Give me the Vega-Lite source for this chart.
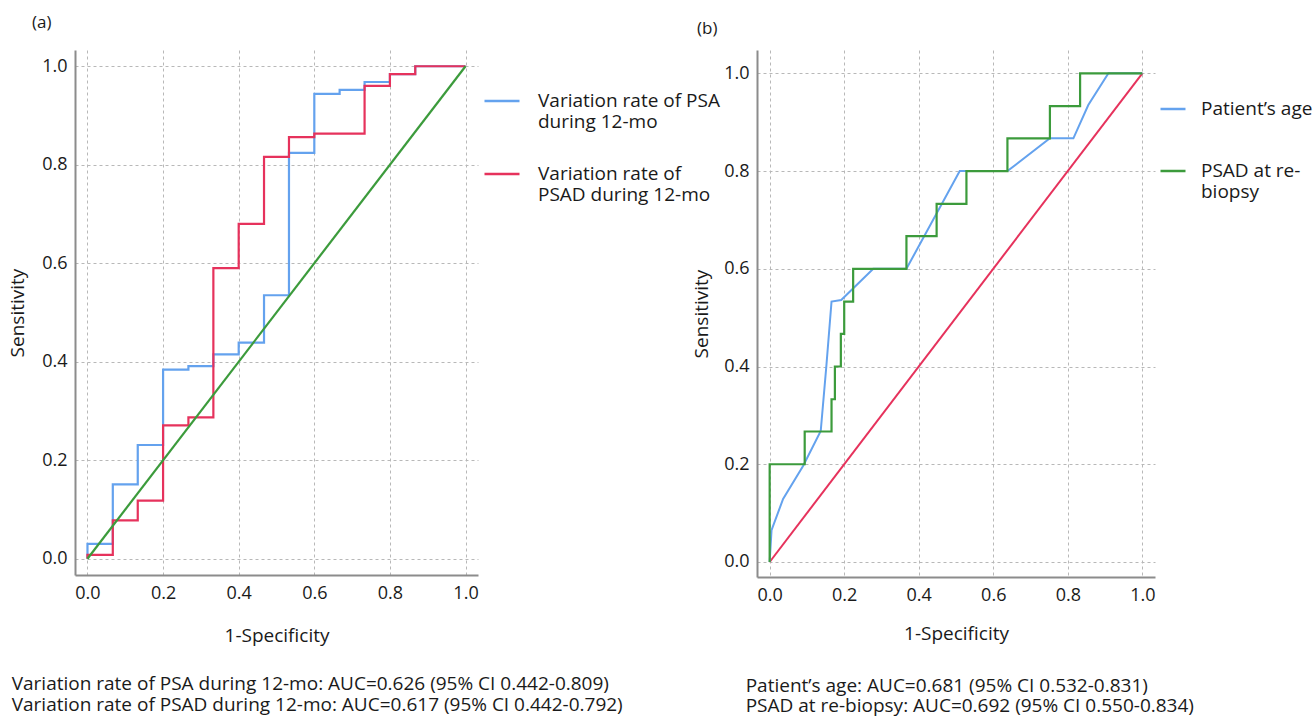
{
  "$schema": "https://vega.github.io/schema/vega-lite/v6.json",
  "background": "white",
  "padding": {"left": 8, "top": 14, "right": 0, "bottom": 0},
  "spacing": -28,
  "config": {
    "font": "Open Sans",
    "view": {"stroke": null},
    "axis": {
      "labelFontSize": 18, "labelColor": "#1a1a1a", "labelFont": "Open Sans",
      "titleFontSize": 19, "titleFontWeight": "normal", "titleColor": "#1a1a1a", "titleFont": "Open Sans",
      "domainColor": "#8c8c8c", "domainWidth": 2,
      "gridColor": "#b8b8b8", "gridDash": [3, 3], "gridWidth": 1,
      "ticks": false, "labelPadding": 8
    },
    "legend": {
      "labelFontSize": 19, "labelColor": "#1a1a1a", "labelFont": "Open Sans", "labelLimit": 400,
      "symbolType": "stroke", "symbolStrokeWidth": 2.5
    },
    "title": {"fontWeight": "normal", "color": "#1a1a1a", "font": "Open Sans"}
  },
  "resolve": {
    "scale": {"color": "independent", "x": "independent", "y": "independent"},
    "legend": {"color": "independent"}
  },
  "datasets": {
    "a": [
      {"series": "Variation rate of PSA during 12-mo", "i": 0, "fpr": 0, "tpr": 0},
      {"series": "Variation rate of PSA during 12-mo", "i": 1, "fpr": 0, "tpr": 0.030},
      {"series": "Variation rate of PSA during 12-mo", "i": 2, "fpr": 0.067, "tpr": 0.151},
      {"series": "Variation rate of PSA during 12-mo", "i": 3, "fpr": 0.133, "tpr": 0.231},
      {"series": "Variation rate of PSA during 12-mo", "i": 4, "fpr": 0.2, "tpr": 0.384},
      {"series": "Variation rate of PSA during 12-mo", "i": 5, "fpr": 0.267, "tpr": 0.391},
      {"series": "Variation rate of PSA during 12-mo", "i": 6, "fpr": 0.333, "tpr": 0.415},
      {"series": "Variation rate of PSA during 12-mo", "i": 7, "fpr": 0.4, "tpr": 0.439},
      {"series": "Variation rate of PSA during 12-mo", "i": 8, "fpr": 0.467, "tpr": 0.535},
      {"series": "Variation rate of PSA during 12-mo", "i": 9, "fpr": 0.533, "tpr": 0.824},
      {"series": "Variation rate of PSA during 12-mo", "i": 10, "fpr": 0.6, "tpr": 0.944},
      {"series": "Variation rate of PSA during 12-mo", "i": 11, "fpr": 0.667, "tpr": 0.952},
      {"series": "Variation rate of PSA during 12-mo", "i": 12, "fpr": 0.733, "tpr": 0.968},
      {"series": "Variation rate of PSA during 12-mo", "i": 13, "fpr": 0.8, "tpr": 0.984},
      {"series": "Variation rate of PSA during 12-mo", "i": 14, "fpr": 0.867, "tpr": 1.0},
      {"series": "Variation rate of PSA during 12-mo", "i": 15, "fpr": 1.0, "tpr": 1.0},
      {"series": "Variation rate of PSAD during 12-mo", "i": 0, "fpr": 0, "tpr": 0},
      {"series": "Variation rate of PSAD during 12-mo", "i": 1, "fpr": 0, "tpr": 0.008},
      {"series": "Variation rate of PSAD during 12-mo", "i": 2, "fpr": 0.067, "tpr": 0.078},
      {"series": "Variation rate of PSAD during 12-mo", "i": 3, "fpr": 0.133, "tpr": 0.118},
      {"series": "Variation rate of PSAD during 12-mo", "i": 4, "fpr": 0.2, "tpr": 0.271},
      {"series": "Variation rate of PSAD during 12-mo", "i": 5, "fpr": 0.267, "tpr": 0.287},
      {"series": "Variation rate of PSAD during 12-mo", "i": 6, "fpr": 0.333, "tpr": 0.590},
      {"series": "Variation rate of PSAD during 12-mo", "i": 7, "fpr": 0.4, "tpr": 0.680},
      {"series": "Variation rate of PSAD during 12-mo", "i": 8, "fpr": 0.467, "tpr": 0.816},
      {"series": "Variation rate of PSAD during 12-mo", "i": 9, "fpr": 0.533, "tpr": 0.856},
      {"series": "Variation rate of PSAD during 12-mo", "i": 10, "fpr": 0.6, "tpr": 0.863},
      {"series": "Variation rate of PSAD during 12-mo", "i": 11, "fpr": 0.733, "tpr": 0.960},
      {"series": "Variation rate of PSAD during 12-mo", "i": 12, "fpr": 0.8, "tpr": 0.984},
      {"series": "Variation rate of PSAD during 12-mo", "i": 13, "fpr": 0.867, "tpr": 1.0},
      {"series": "Variation rate of PSAD during 12-mo", "i": 14, "fpr": 1.0, "tpr": 1.0}
    ],
    "b": [
      {"series": "Patient’s age", "i": 0, "fpr": 0, "tpr": 0},
      {"series": "Patient’s age", "i": 1, "fpr": 0.005, "tpr": 0.065},
      {"series": "Patient’s age", "i": 2, "fpr": 0.036, "tpr": 0.129},
      {"series": "Patient’s age", "i": 3, "fpr": 0.09, "tpr": 0.197},
      {"series": "Patient’s age", "i": 4, "fpr": 0.137, "tpr": 0.268},
      {"series": "Patient’s age", "i": 5, "fpr": 0.152, "tpr": 0.4},
      {"series": "Patient’s age", "i": 6, "fpr": 0.166, "tpr": 0.533},
      {"series": "Patient’s age", "i": 7, "fpr": 0.192, "tpr": 0.536},
      {"series": "Patient’s age", "i": 8, "fpr": 0.278, "tpr": 0.6},
      {"series": "Patient’s age", "i": 9, "fpr": 0.367, "tpr": 0.6},
      {"series": "Patient’s age", "i": 10, "fpr": 0.51, "tpr": 0.8},
      {"series": "Patient’s age", "i": 11, "fpr": 0.638, "tpr": 0.8},
      {"series": "Patient’s age", "i": 12, "fpr": 0.752, "tpr": 0.867},
      {"series": "Patient’s age", "i": 13, "fpr": 0.815, "tpr": 0.867},
      {"series": "Patient’s age", "i": 14, "fpr": 0.855, "tpr": 0.935},
      {"series": "Patient’s age", "i": 15, "fpr": 0.909, "tpr": 1.0},
      {"series": "Patient’s age", "i": 16, "fpr": 1.0, "tpr": 1.0},
      {"series": "PSAD at re-biopsy", "i": 0, "fpr": 0, "tpr": 0},
      {"series": "PSAD at re-biopsy", "i": 1, "fpr": 0, "tpr": 0.2},
      {"series": "PSAD at re-biopsy", "i": 2, "fpr": 0.094, "tpr": 0.267},
      {"series": "PSAD at re-biopsy", "i": 3, "fpr": 0.166, "tpr": 0.333},
      {"series": "PSAD at re-biopsy", "i": 4, "fpr": 0.175, "tpr": 0.4},
      {"series": "PSAD at re-biopsy", "i": 5, "fpr": 0.191, "tpr": 0.467},
      {"series": "PSAD at re-biopsy", "i": 6, "fpr": 0.2, "tpr": 0.533},
      {"series": "PSAD at re-biopsy", "i": 7, "fpr": 0.224, "tpr": 0.6},
      {"series": "PSAD at re-biopsy", "i": 8, "fpr": 0.367, "tpr": 0.667},
      {"series": "PSAD at re-biopsy", "i": 9, "fpr": 0.448, "tpr": 0.733},
      {"series": "PSAD at re-biopsy", "i": 10, "fpr": 0.528, "tpr": 0.8},
      {"series": "PSAD at re-biopsy", "i": 11, "fpr": 0.638, "tpr": 0.867},
      {"series": "PSAD at re-biopsy", "i": 12, "fpr": 0.752, "tpr": 0.933},
      {"series": "PSAD at re-biopsy", "i": 13, "fpr": 0.833, "tpr": 1.0},
      {"series": "PSAD at re-biopsy", "i": 14, "fpr": 1.0, "tpr": 1.0}
    ],
    "diag": [
      {"x0": 0, "y0": 0, "x1": 1, "y1": 1}
    ]
  },
  "hconcat": [
    {
      "title": {
        "text": ["Variation rate of PSA during 12-mo: AUC=0.626 (95% CI 0.442-0.809)", "Variation rate of PSAD during 12-mo: AUC=0.617 (95% CI 0.442-0.792)"],
        "orient": "bottom", "anchor": "start", "frame": "bounds", "offset": 30, "dx": 3,
        "fontSize": 19, "lineHeight": 21, "fontWeight": "normal"
      },
      "vconcat": [
        {
          "width": 403,
          "height": 525,
          "title": {"text": "(a)", "anchor": "start", "frame": "group", "dx": -43, "offset": 18, "fontSize": 17, "fontWeight": "normal"},
          "layer": [
            {
              "data": {"name": "a"},
              "mark": {"type": "line", "interpolate": "step-after", "strokeWidth": 2.2},
              "encoding": {
                "x": {"field": "fpr", "type": "quantitative",
                  "scale": {"domain": [-0.033, 1.033], "nice": false, "zero": false},
                  "axis": {"title": "1-Specificity", "values": [0, 0.2, 0.4, 0.6, 0.8, 1], "format": ".1f", "titlePadding": 24, "labelPadding": 9}},
                "y": {"field": "tpr", "type": "quantitative",
                  "scale": {"domain": [-0.033, 1.033], "nice": false, "zero": false},
                  "axis": {"title": "Sensitivity", "values": [0, 0.2, 0.4, 0.6, 0.8, 1], "format": ".1f", "titlePadding": 14, "labelPadding": 8}},
                "color": {"field": "series", "type": "nominal",
                  "scale": {"domain": ["Variation rate of PSA during 12-mo", "Variation rate of PSAD during 12-mo"], "range": ["#64a2ee", "#e6325c"]},
                  "legend": {"title": null, "orient": "none", "legendX": 408, "legendY": 32,
                    "symbolSize": 1225, "labelOffset": 17, "rowPadding": 23,
                    "labelExpr": "datum.value == 'Variation rate of PSA during 12-mo' ? ['Variation rate of PSA', 'during 12-mo'] : ['Variation rate of', 'PSAD during 12-mo']"}},
                "order": {"field": "i", "type": "quantitative"}
              }
            },
            {
              "data": {"name": "diag"},
              "mark": {"type": "rule", "color": "#3c9b3c", "strokeWidth": 2.2},
              "encoding": {
                "x": {"field": "x0", "type": "quantitative"},
                "y": {"field": "y0", "type": "quantitative"},
                "x2": {"field": "x1"},
                "y2": {"field": "y1"}
              }
            }
          ]
        }
      ]
    },
    {
      "title": {
        "text": ["Patient’s age: AUC=0.681 (95% CI 0.532-0.831)", "PSAD at re-biopsy: AUC=0.692 (95% CI 0.550-0.834)"],
        "orient": "bottom", "anchor": "start", "frame": "bounds", "offset": 34, "dx": 53,
        "fontSize": 19, "lineHeight": 20, "fontWeight": "normal"
      },
      "vconcat": [
        {
          "width": 398,
          "height": 527,
          "title": {"text": "(b)", "anchor": "start", "frame": "group", "dx": -60, "offset": 12, "fontSize": 17, "fontWeight": "normal"},
          "layer": [
            {
              "data": {"name": "diag"},
              "mark": {"type": "rule", "color": "#e6325c", "strokeWidth": 2},
              "encoding": {
                "x": {"field": "x0", "type": "quantitative",
                  "scale": {"domain": [-0.034, 1.034], "nice": false, "zero": false},
                  "axis": {"title": "1-Specificity", "values": [0, 0.2, 0.4, 0.6, 0.8, 1], "format": ".1f", "titlePadding": 20, "labelPadding": 9}},
                "y": {"field": "y0", "type": "quantitative",
                  "scale": {"domain": [-0.0307, 1.0477], "nice": false, "zero": false},
                  "axis": {"title": "Sensitivity", "values": [0, 0.2, 0.4, 0.6, 0.8, 1], "format": ".1f", "titlePadding": 12, "labelPadding": 8}},
                "x2": {"field": "x1"},
                "y2": {"field": "y1"}
              }
            },
            {
              "data": {"name": "b"},
              "transform": [{"filter": "datum.series == 'Patient’s age'"}],
              "mark": {"type": "line", "interpolate": "linear", "strokeWidth": 2},
              "encoding": {
                "x": {"field": "fpr", "type": "quantitative"},
                "y": {"field": "tpr", "type": "quantitative"},
                "color": {"field": "series", "type": "nominal",
                  "scale": {"domain": ["Patient’s age", "PSAD at re-biopsy"], "range": ["#64a2ee", "#3c9b3c"]},
                  "legend": {"title": null, "orient": "none", "legendX": 402, "legendY": 45,
                    "symbolSize": 625, "labelOffset": 14, "rowPadding": 38,
                    "labelExpr": "datum.value == 'PSAD at re-biopsy' ? ['PSAD at re-', 'biopsy'] : datum.value"}},
                "order": {"field": "i", "type": "quantitative"}
              }
            },
            {
              "data": {"name": "b"},
              "transform": [{"filter": "datum.series == 'PSAD at re-biopsy'"}],
              "mark": {"type": "line", "interpolate": "step-after", "strokeWidth": 2.2},
              "encoding": {
                "x": {"field": "fpr", "type": "quantitative"},
                "y": {"field": "tpr", "type": "quantitative"},
                "color": {"field": "series", "type": "nominal"},
                "order": {"field": "i", "type": "quantitative"}
              }
            }
          ]
        }
      ]
    }
  ]
}
